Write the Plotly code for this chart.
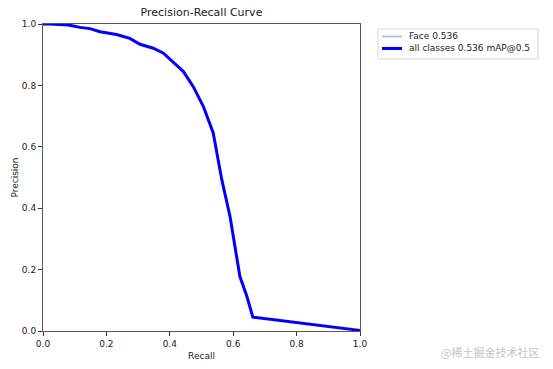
import plotly.graph_objects as go

recall = [0.0, 0.02, 0.08, 0.117, 0.148, 0.18, 0.232, 0.274, 0.306, 0.348, 0.38, 0.411,
          0.443, 0.474, 0.506, 0.537, 0.548, 0.564, 0.59, 0.621, 0.643, 0.662, 1.0]
precision = [1.0, 1.0, 0.997, 0.989, 0.985, 0.975, 0.966, 0.953, 0.934, 0.921, 0.905, 0.877,
             0.845, 0.796, 0.731, 0.645, 0.58, 0.493, 0.373, 0.178, 0.113, 0.045, 0.002]
class_label = "Face 0.536"
all_label = "all classes 0.536 mAP@0.5"
tick_vals = [0.0, 0.2, 0.4, 0.6, 0.8, 1.0]
tick_text = ["0.0", "0.2", "0.4", "0.6", "0.8", "1.0"]

FONT = "DejaVu Sans"
TXT = "#222222"
FACE_COLOR = "#a0bcd2"
ALL_COLOR = "#0000ff"

# plot area in pixels
L, R, T, B = 43, 360, 24, 331.5
W, H = 553, 369
PW, PH = R - L, B - T


def px_x(px):
    return (px - L) / PW


def px_y(py):
    return (B - py) / PH


fig = go.Figure()
fig.add_trace(go.Scatter(x=recall, y=precision, mode="lines", name=class_label,
                         line=dict(color=FACE_COLOR, width=1), showlegend=False))
fig.add_trace(go.Scatter(x=recall, y=precision, mode="lines", name=all_label,
                         line=dict(color=ALL_COLOR, width=3), showlegend=False))

axis_common = dict(range=[0, 1], tickvals=tick_vals, ticktext=tick_text,
                   showgrid=False, zeroline=False, showline=True, mirror=True,
                   linecolor="#5a5a5a", linewidth=1, ticks="outside", ticklen=4,
                   tickcolor="#333333", automargin=False,
                   tickfont=dict(family=FONT, size=9, color=TXT))

fig.update_layout(
    width=W, height=H,
    margin=dict(l=L, r=W - R, t=T, b=H - B),
    paper_bgcolor="white", plot_bgcolor="white",
    title=dict(text="Precision-Recall Curve", x=(L + R) / 2 / W, xanchor="center",
               y=1 - 12 / H, yanchor="middle",
               font=dict(family=FONT, size=11, color=TXT)),
    xaxis=dict(**axis_common, title=dict(text="Recall", standoff=4,
                                         font=dict(family=FONT, size=9, color=TXT))),
    yaxis=dict(**axis_common, title=dict(text="Precision", standoff=1,
                                         font=dict(family=FONT, size=9, color=TXT))),
    showlegend=False,
)

# manual legend (matplotlib style, outside upper-left)
fig.add_shape(type="rect", xref="paper", yref="paper",
              x0=px_x(378), x1=px_x(538), y0=px_y(59), y1=px_y(29),
              line=dict(color="#d6d6d6", width=1), fillcolor="white", layer="above")
legend_items = [(class_label, FACE_COLOR, 1.5, 36.5), (all_label, ALL_COLOR, 3, 48.5)]
for label, color, width, ypix in legend_items:
    fig.add_shape(type="line", xref="paper", yref="paper",
                  x0=px_x(382), x1=px_x(402), y0=px_y(ypix), y1=px_y(ypix),
                  line=dict(color=color, width=width), layer="above")
    fig.add_annotation(text=label, xref="paper", yref="paper",
                       x=px_x(407), y=px_y(ypix), xanchor="left", yanchor="middle",
                       showarrow=False, font=dict(family=FONT, size=9, color=TXT))

fig.add_annotation(text="@稀土掘金技术社区", xref="paper", yref="paper",
                   x=px_x(541), y=px_y(353),
                   xanchor="right", yanchor="middle", showarrow=False,
                   font=dict(family="Noto Sans CJK SC", size=11, color="#c4c4c4"))

fig.write_html("out.html", config={"displayModeBar": False},
               post_script="document.body.style.margin='0';document.body.style.padding='0';")
